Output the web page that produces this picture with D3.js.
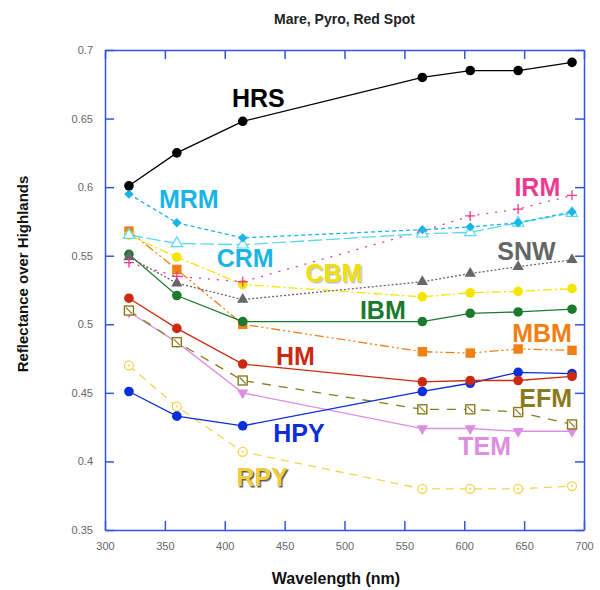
<!DOCTYPE html>
<html>
<head>
<meta charset="utf-8">
<script src="https://cdn.jsdelivr.net/npm/d3@7"></script>
<style>
  body { margin: 0; background: #fff; }
  svg { display: block; font-family: "Liberation Sans", Arial, sans-serif; }
</style>
</head>
<body>
<div id="chart"></div>
<script>
// wavelengths (nm) of the filter points
const wavelengths = [320, 360, 415, 565, 605, 645, 690];

// reflectance over highlands, one array per unit
const HRS = [0.601, 0.625, 0.648, 0.680, 0.685, 0.685, 0.691];
const MRM = [0.595, 0.574, 0.563, 0.569, 0.571, 0.574, 0.582];
const CRM = [0.565, 0.559, 0.558, 0.566, 0.567, 0.574, 0.581];
const IRM = [0.545, 0.535, 0.531, 0.568, 0.579, 0.584, 0.594];
const SNW = [0.549, 0.530, 0.518, 0.531, 0.537, 0.542, 0.547];
const CBM = [0.565, 0.549, 0.529, 0.520, 0.523, 0.524, 0.526];
const IBM = [0.551, 0.521, 0.502, 0.502, 0.508, 0.509, 0.511];
const MBM = [0.568, 0.540, 0.500, 0.480, 0.479, 0.482, 0.481];
const HM  = [0.519, 0.497, 0.471, 0.458, 0.459, 0.459, 0.462];
const HPY = [0.451, 0.433, 0.426, 0.451, 0.457, 0.465, 0.464];
const EFM = [0.510, 0.487, 0.459, 0.438, 0.438, 0.436, 0.427];
const TEM = [0.509, 0.487, 0.450, 0.424, 0.424, 0.422, 0.422];
const RPY = [0.470, 0.440, 0.407, 0.380, 0.380, 0.380, 0.382];

const xTicks = [300, 350, 400, 450, 500, 550, 600, 650, 700];
const yTicks = [0.35, 0.4, 0.45, 0.5, 0.55, 0.6, 0.65, 0.7];

// drawing order, style and where the name sits (in data units)
const series = [
  { name: 'RPY', values: RPY, color: '#f6d24e', dash: '8,6',       mark: 'ringdot', lx: 431, ly: 0.3887, lcolor: '#f2cc3a', shadow: 'shadow' },
  { name: 'TEM', values: TEM, color: '#dd8ee0', dash: null,        mark: 'tridown', lx: 617, ly: 0.4112, lcolor: '#dd8ee0' },
  { name: 'EFM', values: EFM, color: '#8a7a1e', dash: '9,8',       mark: 'sqslash', lx: 668, ly: 0.4459, lcolor: '#8a7a1e' },
  { name: 'HPY', values: HPY, color: '#0a2ed8', dash: null,        mark: 'circle',  lx: 462, ly: 0.4207, lcolor: '#0a2ed8' },
  { name: 'HM',  values: HM,  color: '#cc2a10', dash: null,        mark: 'circle',  lx: 459, ly: 0.4772, lcolor: '#cc2a10' },
  { name: 'MBM', values: MBM, color: '#f27f12', dash: '9,3,2,3,2,3', mark: 'square', lx: 665, ly: 0.4936, lcolor: '#f27f12' },
  { name: 'IBM', values: IBM, color: '#1b7a2e', dash: null,        mark: 'circle',  lx: 532, ly: 0.5104, lcolor: '#1b7a2e' },
  { name: 'CBM', values: CBM, color: '#f2e600', dash: '9,3,2,3',   mark: 'circle',  lx: 491, ly: 0.5374, lcolor: '#f0e000', shadow: 'softshadow' },
  { name: 'SNW', values: SNW, color: '#666666', dash: '2,2',       mark: 'triangle', lx: 652, ly: 0.5538, lcolor: '#666666' },
  { name: 'IRM', values: IRM, color: '#ee3a8c', dash: '2,7',       mark: 'plus',    lx: 661, ly: 0.6001, lcolor: '#ee3a8c' },
  { name: 'CRM', values: CRM, color: '#5ad8f0', dash: '14,4',      mark: 'triopen', lx: 417, ly: 0.5483, lcolor: '#19b5e6' },
  { name: 'MRM', values: MRM, color: '#19b5e6', dash: '4,3',       mark: 'diamond', lx: 370, ly: 0.5914, lcolor: '#19b5e6' },
  { name: 'HRS', values: HRS, color: '#000000', dash: null,        mark: 'circle',  lx: 428, ly: 0.665,  lcolor: '#000000' }
];

const width = 600, height = 590;
const margin = { top: 50, right: 16, bottom: 60, left: 105 };
const innerW = width - margin.left - margin.right;
const innerH = height - margin.top - margin.bottom;
const axisColor = '#3355e0';
const tickColor = '#666';

const svg = d3.select('#chart').append('svg')
  .attr('width', width)
  .attr('height', height);

const defs = svg.append('defs');
function addShadow(id, opacity) {
  defs.append('filter').attr('id', id)
    .attr('x', '-10%').attr('y', '-10%').attr('width', '130%').attr('height', '130%')
    .append('feDropShadow')
    .attr('dx', 1.5).attr('dy', 1.5).attr('stdDeviation', 0.6)
    .attr('flood-color', '#333').attr('flood-opacity', opacity);
}
addShadow('shadow', 0.8);
addShadow('softshadow', 0.3);

const plot = svg.append('g')
  .attr('transform', `translate(${margin.left},${margin.top})`);

const x = d3.scaleLinear().domain([300, 700]).range([0, innerW]);
const y = d3.scaleLinear().domain([0.35, 0.7]).range([innerH, 0]);

const fmtY = d => String(+d.toFixed(2));

function styleAxis(g, showText) {
  g.select('.domain').attr('stroke', axisColor).attr('stroke-width', 1.5);
  g.selectAll('.tick line').attr('stroke', axisColor).attr('stroke-width', 1.5);
  g.selectAll('.tick text')
    .attr('fill', tickColor)
    .style('font-size', '11px')
    .style('display', showText ? null : 'none');
}

plot.append('g')
  .attr('transform', `translate(0,${innerH})`)
  .call(d3.axisBottom(x).tickValues(xTicks).tickSizeInner(-9).tickSizeOuter(0).tickPadding(12))
  .call(g => styleAxis(g, true));

plot.append('g')
  .call(d3.axisTop(x).tickValues(xTicks).tickSizeInner(-9).tickSizeOuter(0))
  .call(g => styleAxis(g, false));

plot.append('g')
  .call(d3.axisLeft(y).tickValues(yTicks).tickFormat(fmtY).tickSizeInner(-9).tickSizeOuter(0).tickPadding(12))
  .call(g => styleAxis(g, true));

plot.append('g')
  .attr('transform', `translate(${innerW},0)`)
  .call(d3.axisRight(y).tickValues(yTicks).tickSizeInner(-9).tickSizeOuter(0))
  .call(g => styleAxis(g, false));

const line = d3.line()
  .x(d => x(d.w))
  .y(d => y(d.v));

function drawMark(g, s, px, py) {
  const c = s.color;
  if (s.mark === 'circle') {
    g.append('circle').attr('cx', px).attr('cy', py).attr('r', 4.8).attr('fill', c);
  } else if (s.mark === 'square') {
    g.append('rect').attr('x', px - 4.7).attr('y', py - 4.7).attr('width', 9.4).attr('height', 9.4).attr('fill', c);
  } else if (s.mark === 'diamond') {
    g.append('path').attr('transform', `translate(${px},${py}) rotate(45)`)
      .attr('d', d3.symbol(d3.symbolSquare, 44)()).attr('fill', c);
  } else if (s.mark === 'triangle') {
    g.append('path').attr('transform', `translate(${px},${py})`)
      .attr('d', d3.symbol(d3.symbolTriangle, 55)()).attr('fill', c);
  } else if (s.mark === 'tridown') {
    g.append('path').attr('transform', `translate(${px},${py}) rotate(180)`)
      .attr('d', d3.symbol(d3.symbolTriangle, 55)()).attr('fill', c);
  } else if (s.mark === 'triopen') {
    g.append('path').attr('transform', `translate(${px},${py})`)
      .attr('d', d3.symbol(d3.symbolTriangle, 55)()).attr('fill', '#fff')
      .attr('stroke', c).attr('stroke-width', 1.2);
  } else if (s.mark === 'plus') {
    g.append('path').attr('d', `M${px - 5},${py}H${px + 5}M${px},${py - 5}V${py + 5}`)
      .attr('stroke', c).attr('stroke-width', 1.3);
  } else if (s.mark === 'sqslash') {
    g.append('rect').attr('x', px - 4.5).attr('y', py - 4.5).attr('width', 9).attr('height', 9)
      .attr('fill', '#fff').attr('stroke', c).attr('stroke-width', 1.4);
    g.append('path').attr('d', `M${px - 3},${py - 3}L${px + 3},${py + 3}`)
      .attr('stroke', c).attr('stroke-width', 1.2);
  } else if (s.mark === 'ringdot') {
    g.append('circle').attr('cx', px).attr('cy', py).attr('r', 4.5)
      .attr('fill', '#fff').attr('stroke', c).attr('stroke-width', 1.3);
    g.append('circle').attr('cx', px).attr('cy', py).attr('r', 1).attr('fill', c);
  }
}

series.forEach(s => {
  const pts = wavelengths.map((w, i) => ({ w: w, v: s.values[i] }));
  const g = plot.append('g').attr('class', 'series');
  g.append('path').datum(pts)
    .attr('fill', 'none')
    .attr('stroke', s.color)
    .attr('stroke-width', 1.3)
    .attr('stroke-dasharray', s.dash)
    .attr('d', line);
  pts.forEach(p => drawMark(g, s, x(p.w), y(p.v)));
});

// series names
plot.append('g').selectAll('text')
  .data(series)
  .enter()
  .append('text')
  .attr('x', d => x(d.lx))
  .attr('y', d => y(d.ly))
  .attr('text-anchor', 'middle')
  .attr('dominant-baseline', 'central')
  .attr('fill', d => d.lcolor)
  .attr('filter', d => d.shadow ? `url(#${d.shadow})` : null)
  .style('font-size', '25px')
  .style('font-weight', 'bold')
  .text(d => d.name);

svg.append('text')
  .attr('x', margin.left + innerW / 2)
  .attr('y', 24)
  .attr('text-anchor', 'middle')
  .attr('fill', '#222')
  .style('font-size', '14px')
  .style('font-weight', 'bold')
  .text('Mare, Pyro, Red Spot');

svg.append('text')
  .attr('x', 336)
  .attr('y', 584)
  .attr('text-anchor', 'middle')
  .attr('fill', '#111')
  .style('font-size', '16px')
  .style('font-weight', 'bold')
  .text('Wavelength (nm)');

svg.append('text')
  .attr('transform', `translate(28, 274) rotate(-90)`)
  .attr('text-anchor', 'middle')
  .attr('fill', '#111')
  .style('font-size', '15px')
  .style('font-weight', 'bold')
  .text('Reflectance over Highlands');
</script>
</body>
</html>
